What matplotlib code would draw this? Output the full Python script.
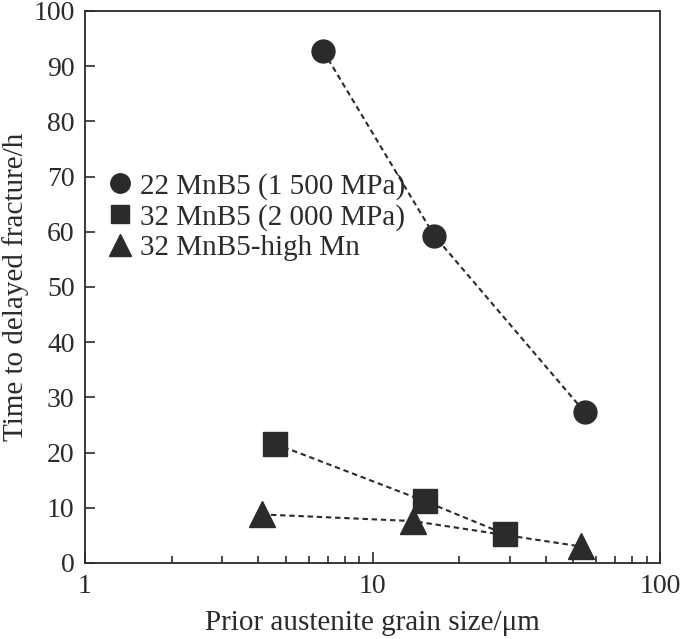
import matplotlib
matplotlib.use("Agg")
import matplotlib.pyplot as plt
from matplotlib.ticker import LogLocator, NullFormatter, FixedLocator, FixedFormatter

plt.rcParams['font.family'] = ['Liberation Serif', 'DejaVu Serif']

labels = ["22 MnB5 (1 500 MPa)", "32 MnB5 (2 000 MPa)", "32 MnB5-high Mn"]
x_2215 = [6.75, 16.4, 54.8]
y_2215 = [92.7, 59.3, 27.3]
x_3220 = [4.58, 15.2, 29.0]
y_3220 = [21.6, 11.2, 5.2]
x_hmn = [4.12, 13.8, 53.0]
y_hmn = [8.8, 7.6, 3.0]

col = '#2b2b2b'
fig = plt.figure(figsize=(6.85, 6.39), dpi=100)
ax = fig.add_axes([85/685, 1-563/639, (660-85)/685, (563-11)/639])

series = [(x_2215, y_2215, 'o', 16.5, 14), (x_3220, y_3220, 's', 17, 13), (x_hmn, y_hmn, '^', 18.5, 16)]
for (xs, ys, m, ms, lms), lab in zip(series, labels):
    ax.plot(xs, ys, linestyle=(0, (2.6, 1.8)), color=col, lw=1.5, zorder=1)
    ax.plot(xs, ys, linestyle='none', marker=m, ms=ms, color=col, zorder=2)
    ax.plot([], [], linestyle='none', marker=m, ms=lms, color=col, label=lab)

ax.set_xscale('log')
ax.set_xlim(1, 100)
ax.set_ylim(0, 100)
ax.set_yticks(range(0, 101, 10))
ax.xaxis.set_major_locator(FixedLocator([1, 10, 100]))
ax.xaxis.set_major_formatter(FixedFormatter(['1', '10', '100']))
ax.xaxis.set_minor_locator(LogLocator(base=10, subs=range(2, 10)))
ax.xaxis.set_minor_formatter(NullFormatter())
ax.tick_params(axis='x', which='major', direction='in', length=8, width=1.2, labelsize=20, pad=8, color=col, labelcolor=col)
ax.tick_params(axis='x', which='minor', direction='in', length=5, width=1.2, color=col)
ax.tick_params(axis='y', direction='in', length=7, width=1.2, labelsize=20, pad=7.5, color=col, labelcolor=col)
for s in ax.spines.values():
    s.set_linewidth(1.3)
    s.set_color(col)

ax.set_xlabel('Prior austenite grain size/\u03bcm', fontsize=21, color=col, labelpad=8)
ax.set_ylabel('Time to delayed fracture/h', fontsize=21, color=col, labelpad=3)

leg = ax.legend(loc='upper left', bbox_to_anchor=(0.04, 0.707), frameon=False, fontsize=21,
                handlelength=0.8, handletextpad=0.3, labelspacing=0.14, borderaxespad=0,
                borderpad=0, labelcolor=col)

fig.savefig('out.png', dpi=100)
